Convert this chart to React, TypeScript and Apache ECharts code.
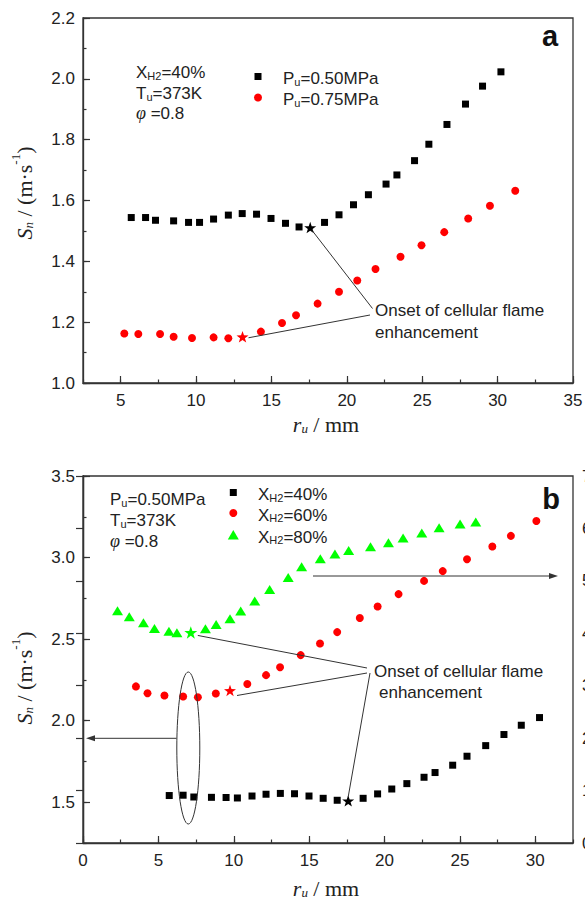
import React, { useEffect, useRef } from "react";
import * as echarts from "echarts";

// ---------- Panel a : X_H2 = 40 %, two pressures ----------
const rA050 = [5.70, 6.65, 7.31, 8.51, 9.50, 10.23, 11.16, 12.14, 13.06, 14.01, 14.97, 15.93, 16.83, 18.52, 19.48, 20.44, 21.43, 22.60, 23.32, 24.49, 25.44, 26.64, 27.87, 29.00, 30.22];
const snA050 = [1.544, 1.544, 1.535, 1.533, 1.528, 1.528, 1.539, 1.552, 1.557, 1.555, 1.541, 1.525, 1.513, 1.528, 1.553, 1.586, 1.619, 1.654, 1.684, 1.731, 1.785, 1.850, 1.917, 1.976, 2.023];
const onsetA050 = [17.57, 1.511];

const rA075 = [5.24, 6.17, 7.61, 8.51, 9.73, 11.16, 12.14, 14.30, 15.70, 16.63, 18.06, 19.48, 20.69, 21.90, 23.56, 24.95, 26.46, 28.05, 29.49, 31.17];
const snA075 = [1.163, 1.161, 1.161, 1.152, 1.148, 1.150, 1.147, 1.169, 1.197, 1.223, 1.261, 1.300, 1.337, 1.375, 1.415, 1.453, 1.496, 1.541, 1.583, 1.632];
const onsetA075 = [13.08, 1.152];

// ---------- Panel b : P_u = 0.50 MPa, three H2 fractions ----------
const rB40 = [5.72, 6.64, 7.35, 8.52, 9.49, 10.24, 11.21, 12.14, 13.09, 14.03, 14.99, 15.93, 16.86, 18.58, 19.54, 20.48, 21.48, 22.62, 23.35, 24.52, 25.47, 26.71, 27.92, 29.07, 30.28];
const snB40 = [1.541, 1.543, 1.532, 1.530, 1.529, 1.526, 1.538, 1.549, 1.554, 1.552, 1.538, 1.524, 1.512, 1.524, 1.551, 1.581, 1.614, 1.653, 1.682, 1.727, 1.782, 1.847, 1.915, 1.972, 2.019];
const onsetB40 = [17.59, 1.508];

const rB60 = [3.51, 4.28, 5.40, 6.64, 7.62, 8.81, 10.90, 12.14, 13.07, 14.44, 15.72, 16.86, 18.36, 19.54, 20.93, 22.62, 23.86, 25.47, 27.15, 28.38, 30.07];
const snB60 = [2.210, 2.168, 2.154, 2.148, 2.144, 2.167, 2.225, 2.279, 2.327, 2.402, 2.473, 2.543, 2.629, 2.700, 2.776, 2.857, 2.917, 2.990, 3.068, 3.133, 3.224];
const onsetB60 = [9.75, 2.185];

// X_H2 = 80 % is read on the right-hand axis
const rB80 = [2.29, 3.07, 4.01, 4.74, 5.70, 6.23, 8.12, 8.83, 9.75, 10.46, 11.39, 12.38, 13.61, 14.50, 15.74, 16.71, 17.62, 19.07, 20.26, 21.23, 22.47, 23.62, 25.01, 26.05];
const snB80 = [4.428, 4.314, 4.199, 4.092, 4.041, 4.008, 4.085, 4.169, 4.276, 4.423, 4.614, 4.837, 5.066, 5.268, 5.421, 5.511, 5.581, 5.650, 5.726, 5.816, 5.911, 6.013, 6.083, 6.121];
const onsetB80 = [7.15, 4.016];

// ---------- tick labels ----------
const xTicksA = [5, 10, 15, 20, 25, 30, 35];
const yTicksA = [1.0, 1.2, 1.4, 1.6, 1.8, 2.0, 2.2];
const xTicksB = [0, 5, 10, 15, 20, 25, 30];
const yTicksB = [1.5, 2.0, 2.5, 3.0, 3.5];

const SANS = "'Liberation Sans', Arial, sans-serif";
const SERIF = "'Liberation Serif', 'Times New Roman', serif";
const INK = "#222";
const AXIS = "#333";
const STAR = "path://M0,-10L2.35,-3.24L9.51,-3.09L3.8,1.24L5.88,8.09L0,4L-5.88,8.09L-3.8,1.24L-9.51,-3.09L-2.35,-3.24Z";

const pair = (xs: number[], ys: number[]) => xs.map((x, i) => [x, ys[i]]);

const richText = {
  m: { fontSize: 17, fontFamily: SANS, color: INK, verticalAlign: "bottom", lineHeight: 20 },
  s: { fontSize: 11, fontFamily: SANS, color: INK, verticalAlign: "bottom", lineHeight: 12 },
  p: { fontSize: 18, fontFamily: SERIF, fontStyle: "italic", color: "#666", verticalAlign: "bottom", lineHeight: 20 },
};
const richName = {
  i: { fontSize: 22, fontFamily: SERIF, fontStyle: "italic", color: INK, verticalAlign: "bottom", lineHeight: 26 },
  b: { fontSize: 13, fontFamily: SERIF, fontStyle: "italic", color: INK, verticalAlign: "bottom", lineHeight: 12 },
  t: { fontSize: 22, fontFamily: SERIF, color: INK, verticalAlign: "bottom", lineHeight: 26 },
  u: { fontSize: 13, fontFamily: SERIF, color: INK, verticalAlign: "top", lineHeight: 14 },
};

function mainAxis(dim: "x" | "y", grid: number, min: number, max: number, ticks: number[], decimals: number) {
  return {
    type: "value",
    gridIndex: grid,
    min,
    max,
    position: dim === "x" ? "bottom" : "left",
    axisLine: { show: true, onZero: false, lineStyle: { color: AXIS, width: 1.3 } },
    axisTick: { show: true, inside: true, length: 7, customValues: ticks, lineStyle: { color: AXIS, width: 1.2 } },
    axisLabel: {
      show: true,
      customValues: ticks,
      margin: dim === "x" ? 9 : 8,
      fontSize: 17,
      color: INK,
      fontFamily: SANS,
      formatter: (v: number) => v.toFixed(decimals),
    },
    splitLine: { show: false },
  };
}
function minorAxis(dim: "x" | "y", grid: number, min: number, max: number, step: number) {
  return {
    type: "value",
    gridIndex: grid,
    min,
    max,
    interval: step,
    position: dim === "x" ? "bottom" : "left",
    axisLine: { show: false },
    axisTick: { show: true, inside: true, length: 3.5, lineStyle: { color: AXIS, width: 1.2 } },
    axisLabel: { show: false },
    splitLine: { show: false },
  };
}

export default function App() {
  const ref = useRef<HTMLDivElement>(null);
  useEffect(() => {
    const chart = echarts.init(ref.current!, null, { renderer: "svg" });
    const scatter = (name: string, data: number[][], xi: number, yi: number, symbol: string, size: any, color: string, z = 3) => ({
      type: "scatter",
      name,
      data,
      xAxisIndex: xi,
      yAxisIndex: yi,
      symbol,
      symbolSize: size,
      symbolKeepAspect: true,
      itemStyle: { color, opacity: 1 },
      z,
      silent: true,
    });
    chart.setOption({
      animation: false,
      backgroundColor: "#fff",
      grid: [
        { left: 83, top: 18, width: 490, height: 365, show: true, borderColor: AXIS, borderWidth: 1.3, backgroundColor: "transparent", containLabel: false, outerBoundsMode: "none" },
        { left: 83, top: 476, width: 490, height: 367, show: true, borderColor: AXIS, borderWidth: 1.3, backgroundColor: "transparent", containLabel: false, outerBoundsMode: "none" },
      ],
      xAxis: [
        mainAxis("x", 0, 2.5, 35, xTicksA, 0),
        minorAxis("x", 0, 2.5, 35, 2.5),
        mainAxis("x", 1, 0, 32.5, xTicksB, 0),
        minorAxis("x", 1, 0, 32.5, 2.5),
      ],
      yAxis: [
        mainAxis("y", 0, 1.0, 2.2, yTicksA, 1),
        minorAxis("y", 0, 1.0, 2.2, 0.1),
        mainAxis("y", 1, 1.25, 3.5, yTicksB, 1),
        minorAxis("y", 1, 1.25, 3.5, 0.25),
        {
          type: "value",
          gridIndex: 1,
          position: "right",
          min: 0,
          max: 7,
          interval: 1,
          axisLine: { show: true, lineStyle: { color: AXIS, width: 1.3 } },
          axisTick: { show: true, inside: true, length: 7, lineStyle: { color: AXIS, width: 1.2 } },
          axisLabel: { show: true, margin: 9, fontSize: 17, color: INK, fontFamily: SANS },
          splitLine: { show: false },
        },
      ],
      series: [
        scatter("Pu=0.50MPa", pair(rA050, snA050), 0, 0, "rect", 7, "#000"),
        scatter("onset a1", [onsetA050], 0, 0, STAR, 12, "#000", 4),
        scatter("Pu=0.75MPa", pair(rA075, snA075), 0, 0, "circle", 8, "#ff0000"),
        scatter("onset a2", [onsetA075], 0, 0, STAR, 12, "#ff0000", 4),
        scatter("XH2=40%", pair(rB40, snB40), 2, 2, "rect", 7, "#000"),
        scatter("onset b1", [onsetB40], 2, 2, STAR, 12, "#000", 4),
        scatter("XH2=60%", pair(rB60, snB60), 2, 2, "circle", 8, "#ff0000"),
        scatter("onset b2", [onsetB60], 2, 2, STAR, 12, "#ff0000", 4),
        scatter("XH2=80%", pair(rB80, snB80), 2, 4, "triangle", [11, 9], "#00ff00"),
        scatter("onset b3", [onsetB80], 2, 4, STAR, 13, "#00ff00", 4),
      ],
    });

    const px = (xi: number, yi: number, p: number[]) => chart.convertToPixel({ xAxisIndex: xi, yAxisIndex: yi }, p) as number[];
    const sA1 = px(0, 0, onsetA050);
    const sA2 = px(0, 0, onsetA075);
    const sB1 = px(2, 2, onsetB40);
    const sB2 = px(2, 2, onsetB60);
    const sB3 = px(2, 4, onsetB80);

    const ln = (x1: number, y1: number, x2: number, y2: number) => ({
      type: "line",
      shape: { x1, y1, x2, y2 },
      style: { stroke: "#333", lineWidth: 1 },
      silent: true,
      z: 10,
    });
    const txt = (x: number, y: number, text: string, extra: any = {}) => ({
      type: "text",
      x,
      y,
      silent: true,
      z: 10,
      style: { text, rich: richText, fill: INK, font: `17px ${SANS}`, align: "left", verticalAlign: "middle", textAlign: "left", textVerticalAlign: "middle", ...extra },
    });
    const name = (x: number, y: number, text: string, rot: number) => ({
      type: "text",
      x,
      y,
      rotation: rot,
      silent: true,
      style: { text, rich: richName, fill: INK, align: "center", verticalAlign: "middle", textAlign: "center", textVerticalAlign: "middle" },
    });
    const label = (x: number, y: number, text: string) => ({
      type: "text",
      x,
      y,
      silent: true,
      style: { text, fill: "#111", font: `bold 29px ${SANS}`, align: "center", verticalAlign: "middle", textAlign: "center", textVerticalAlign: "middle" },
    });
    const sq = (x: number, y: number) => ({ type: "rect", shape: { x: x - 3.5, y: y - 3.5, width: 7, height: 7 }, style: { fill: "#000" }, silent: true });
    const ci = (x: number, y: number) => ({ type: "circle", shape: { cx: x, cy: y, r: 4 }, style: { fill: "#ff0000" }, silent: true });
    const tri = (x: number, y: number) => ({ type: "polygon", shape: { points: [[x, y - 5], [x + 5.5, y + 4.5], [x - 5.5, y + 4.5]] }, style: { fill: "#00ff00" }, silent: true });
    const arrowHead = (x: number, y: number, dir: number) => ({
      type: "polygon",
      shape: { points: [[x, y], [x - dir * 9, y - 3], [x - dir * 9, y + 3]] },
      style: { fill: "#333" },
      silent: true,
      z: 10,
    });

    chart.setOption({
      graphic: [
        // panel a
        txt(136, 71, "{m|X}{s|H2}{m|=40%}"),
        txt(136, 92, "{m|T}{s|u}{m|=373K}"),
        txt(136, 112, "{p|φ}{m| =0.8}"),
        sq(258, 76.5),
        ci(258, 97.5),
        txt(283, 77, "{m|P}{s|u}{m|=0.50MPa}"),
        txt(283, 98, "{m|P}{s|u}{m|=0.75MPa}"),
        label(550, 36, "a"),
        ln(sA1[0] + 2, sA1[1] + 3, 372.5, 308.5),
        ln(sA2[0] + 6, sA2[1] + 1, 370, 315),
        txt(375, 310, "Onset of cellular flame"),
        txt(375, 332, "enhancement"),
        name(22, 193, "{i|S}{b|n}{t| / (m·s}{u|-1}{t|)}", Math.PI / 2),
        name(326, 422, "{i|r}{b|u}{t| / mm}", 0),
        // panel b
        txt(110, 498, "{m|P}{s|u}{m|=0.50MPa}"),
        txt(110, 519, "{m|T}{s|u}{m|=373K}"),
        txt(110, 540, "{p|φ}{m| =0.8}"),
        sq(233.3, 492.5),
        ci(233.3, 513),
        tri(233.3, 535),
        txt(258, 493, "{m|X}{s|H2}{m|=40%}"),
        txt(258, 513.5, "{m|X}{s|H2}{m|=60%}"),
        txt(258, 535.5, "{m|X}{s|H2}{m|=80%}"),
        label(551, 499, "b"),
        ln(sB3[0] + 7, sB3[1] + 3, 367, 668),
        ln(sB2[0] + 7, sB2[1] + 5, 367, 673),
        ln(370, 673, sB1[0], sB1[1] - 4),
        txt(374, 671, "Onset of cellular flame"),
        txt(379, 692.5, "enhancement"),
        {
          type: "ellipse",
          shape: { cx: 188.3, cy: 748, rx: 11.5, ry: 76 },
          style: { fill: "none", stroke: "#333", lineWidth: 1 },
          silent: true,
          z: 10,
        },
        ln(176.5, 738.3, 92, 738.3),
        arrowHead(86, 738.3, -1),
        ln(313, 576, 550, 576),
        arrowHead(558, 576, 1),
        name(22, 678, "{i|S}{b|n}{t| / (m·s}{u|-1}{t|)}", Math.PI / 2),
        name(326, 886, "{i|r}{b|u}{t| / mm}", 0),
      ],
    });
    return () => chart.dispose();
  }, []);
  return <div ref={ref} style={{ position: "absolute", left: 0, top: 0, width: 585, height: 903 }} />;
}
